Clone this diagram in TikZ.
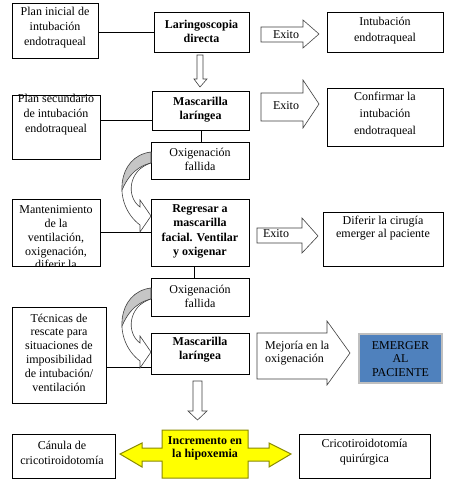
\documentclass[tikz,border=0pt]{standalone}
\usepackage{fontspec}
\setmainfont{Liberation Serif}
\usetikzlibrary{calc}
\definecolor{embl}{HTML}{4F81BD}
\definecolor{yel}{HTML}{FFFF00}
\definecolor{yelb}{HTML}{8A8A00}
\definecolor{arr}{HTML}{404040}
\newcommand\fsz[1]{\fontsize{12}{#1}\selectfont}
\newcommand\mybox[5]{\node[box, minimum width={(#4-#2)*1pt}, minimum height={(#5-#3)*1pt}] (#1) at ({(#2+#4)/2},{(#3+#5)/2}) {};}
\begin{document}
\begin{tikzpicture}[x=1pt,y=-1pt,
  box/.style={draw=black, line width=0.8pt, inner sep=0pt, fill=white},
  txt/.style={inner sep=0pt, align=center, font=\rmfamily\fsz{13.8}},
  conn/.style={draw=black, line width=0.8pt},
  barrow/.style={draw=arr, line width=0.6pt, fill=white, line join=miter}]
\useasboundingbox (0,0) rectangle (450,485);
\fill[white] (0,0) rectangle (450,485);

% ---- boxes ----
\mybox{pi}{12}{3}{98}{58}
\node[txt, font=\rmfamily\fsz{15}] (pi-t) at (55,28) {Plan inicial de\\intubación\\endotraqueal};
\mybox{lar}{154}{12}{249}{52}
\node[txt, font=\rmfamily\fsz{13.5}\bfseries] (lar-t) at (201.5,31.5) {Laringoscopia\\directa};
\mybox{ie}{327}{12}{443}{52}
\node[txt, font=\rmfamily\fsz{16.5}] (ie-t) at (385,30.5) {Intubación\\endotraqueal};

\mybox{ps}{12}{95}{100}{159}
\node[txt, font=\rmfamily\fsz{15}] (ps-t) at (56,115) {Plan secundario\\de intubación\\endotraqueal};
\mybox{mas1}{152}{91}{249}{130}
\node[txt, font=\rmfamily\fsz{14}\bfseries] (mas1-t) at (200.5,110) {Mascarilla\\laríngea};
\mybox{conf}{327}{88}{443}{146}
\node[txt, font=\rmfamily\fsz{17}] (conf-t) at (385,114.5) {Confirmar la\\intubación\\endotraqueal};

\mybox{ox1}{151}{142}{249}{179}
\node[txt, font=\rmfamily\fsz{14.5}] (ox1-t) at (200,159.5) {Oxigenación\\fallida};

\mybox{mant}{12}{199}{100}{266}
\begin{scope}
\clip (mant.south west) rectangle (mant.north east);
\node[txt, font=\rmfamily\fsz{13.75}] (mant-t) at (56,237.5) {Mantenimiento\\de la\\ventilación,\\oxigenación,\\diferir la};
\end{scope}
\mybox{reg}{151}{199}{249}{266}
\node[txt, font=\rmfamily\fsz{14.3}\bfseries] (reg-t) at (200,231.5) {Regresar a\\mascarilla\\facial. Ventilar\\y oxigenar};
\mybox{dif}{323}{212}{443}{266}
\node[txt, font=\rmfamily\fsz{13}] (dif-t) at (383,228.5) {Diferir la cirugía\\emerger al paciente};

\mybox{ox2}{151}{278}{249}{316}
\node[txt, font=\rmfamily\fsz{14}] (ox2-t) at (200,296) {Oxigenación\\fallida};
\mybox{tec}{12}{307}{106}{403}
\node[txt, font=\rmfamily\fsz{13.8}] (tec-t) at (59,352.5) {Técnicas de\\rescate para\\situaciones de\\imposibilidad\\de intubación/\\ventilación};
\mybox{mas2}{151}{333}{249}{374}
\node[txt, font=\rmfamily\fsz{14}\bfseries] (mas2-t) at (200,350) {Mascarilla\\laríngea};

\node[draw=gray!50, line width=2.4pt, fill=embl, minimum width=83pt, minimum height=49pt, inner sep=0pt] (em) at (400.5,358.5) {};
\node[txt, font=\rmfamily\fsz{13.5}] (em-t) at (400.5,359) {EMERGER\\AL\\PACIENTE};

\mybox{can}{12}{434}{115}{478}
\node[txt, font=\rmfamily\fsz{15}] (can-t) at (62,452.5) {Cánula de\\cricotiroidotomía};
\mybox{cri}{299}{434}{430}{478}
\node[txt, font=\rmfamily\fsz{15}] (cri-t) at (364.5,452.5) {Cricotiroidotomía\\quirúrgica};

% ---- connectors ----
\draw[conn] (pi.east |- lar.west) -- (lar.west);
\draw[conn] (ps.east |- 0,120) -- (mas1.west |- 0,120);
\draw[conn] (mant.east |- reg.west) -- (reg.west);
\draw[conn] (tec.east |- 0,367) -- (mas2.west |- 0,367);
\draw[conn] (mas1.south -| 201,0) -- (ox1.north -| 201,0);
\draw[conn] (reg.south -| 194,0) -- (ox2.north -| 194,0);

% ---- block arrows ----
\draw[barrow] (261,27) -- (303,27) -- (303,20) -- (319,34) -- (303,48) -- (303,42) -- (261,42) -- cycle;
\node[txt] (ex1) at (286,35) {Exito};
\draw[barrow] (261,93) -- (303,93) -- (303,80) -- (319,104) -- (303,128) -- (303,121) -- (261,121) -- cycle;
\node[txt] (ex2) at (286,106) {Exito};
\draw[barrow] (257,228) -- (302,228) -- (302,218) -- (318,236) -- (302,253) -- (302,243) -- (257,243) -- cycle;
\node[txt] (ex3) at (276,234) {Exito};
\draw[barrow] (257,333) -- (327,333) -- (327,321) -- (350,353) -- (327,385) -- (327,379) -- (257,379) -- cycle;
\node[txt, align=left, anchor=west, font=\rmfamily\fsz{13}] (mej) at (265,353.5) {Mejoría en la\\oxigenación};

\draw[barrow] (197,55) -- (203,55) -- (203,79) -- (207,79) -- (200,87) -- (194,79) -- (197,79) -- cycle;
\draw[barrow] (193,381) -- (202,381) -- (202,411) -- (207,411) -- (197.5,420) -- (188,411) -- (193,411) -- cycle;

% ---- curved arrows ----
\foreach \dy in {0,136}{
  \fill[white] (151,{\dy+152}) .. controls (117,{\dy+156}) and (112,{\dy+204}) .. (140,{\dy+225}) -- (140,{\dy+232}) -- (151,{\dy+216}) -- (140,{\dy+200}) -- (140,{\dy+207}) .. controls (126,{\dy+197}) and (128,{\dy+170}) .. (151,{\dy+163}) -- cycle;
  \begin{scope}
    \clip (151,{\dy+152}) .. controls (117,{\dy+156}) and (112,{\dy+204}) .. (140,{\dy+225}) -- (140,{\dy+232}) -- (151,{\dy+216}) -- (140,{\dy+200}) -- (140,{\dy+207}) .. controls (126,{\dy+197}) and (128,{\dy+170}) .. (151,{\dy+163}) -- cycle;
    \fill[gray!45] (151,{\dy+163}) .. controls (134,{\dy+167}) and (125,{\dy+180}) .. (119,{\dy+198}) -- (100,{\dy+198}) -- (100,{\dy+140}) -- (160,{\dy+140}) -- (160,{\dy+163}) -- cycle;
    \draw[draw=arr, line width=0.6pt] (151,{\dy+163}) .. controls (134,{\dy+167}) and (125,{\dy+180}) .. (119,{\dy+198});
  \end{scope}
  \draw[draw=arr, line width=0.6pt, line join=miter] (151,{\dy+152}) .. controls (117,{\dy+156}) and (112,{\dy+204}) .. (140,{\dy+225}) -- (140,{\dy+232}) -- (151,{\dy+216}) -- (140,{\dy+200}) -- (140,{\dy+207}) .. controls (126,{\dy+197}) and (128,{\dy+170}) .. (151,{\dy+163}) -- cycle;
}

% ---- yellow double arrow ----
\draw[fill=yel, draw=yelb, line width=1pt, line join=miter] (162,430) -- (248,430) -- (248,448) -- (269,448) -- (269,443) -- (291,454) -- (269,467) -- (269,461) -- (248,461) -- (248,478) -- (162,478) -- (162,461) -- (142,461) -- (142,467) -- (120,454) -- (142,443) -- (142,448) -- (162,448) -- cycle;
\node[txt, font=\rmfamily\fsz{13}\bfseries] (inc) at (205,448.5) {Incremento en\\la hipoxemia};
\end{tikzpicture}
\end{document}
